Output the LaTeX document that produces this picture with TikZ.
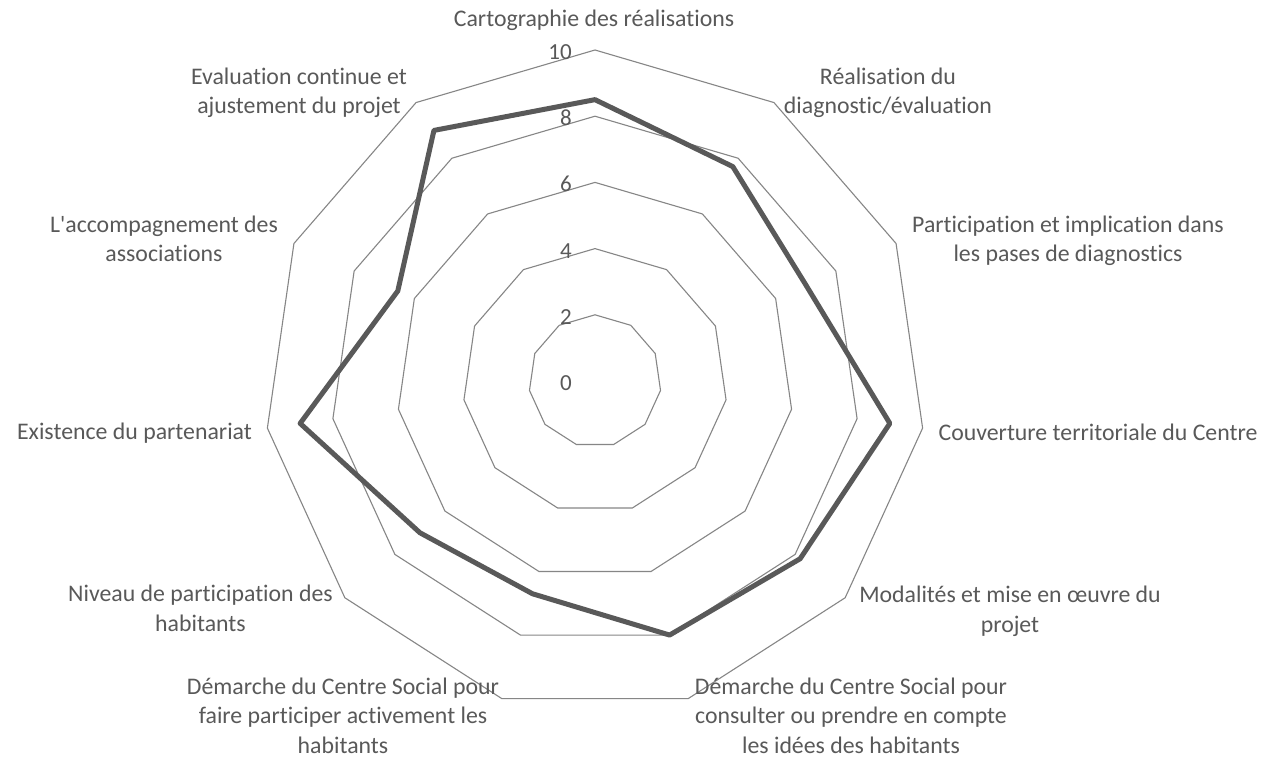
\documentclass[tikz,border=0pt]{standalone}
\usepackage{fontspec}
\setmainfont{Carlito}[Ligatures={TeXOff,NoCommon}]
\definecolor{txt}{HTML}{595959}
\definecolor{gridc}{HTML}{868686}
\definecolor{seriec}{HTML}{595959}
\begin{document}
\begin{tikzpicture}[x=1pt,y=-1pt,
  lbl/.style={text=txt,font=\fontsize{23.8}{29.3}\selectfont,inner sep=0,align=center,anchor=base},
  ticklbl/.style={text=txt,font=\fontsize{23}{27}\selectfont,inner sep=0,anchor=base east},
  ring/.style={draw=gridc,line width=1.1pt,line join=miter},
  serieline/.style={draw=seriec,line width=5pt,line join=round}]
\useasboundingbox[fill=white] (0,0) rectangle (1267,757);
\def\cx{595}\def\cy{381}\def\un{33.1}
% rings
\foreach \v in {2,4,6,8,10}{
  \draw[ring] ({\cx},{\cy-\un*\v})
    \foreach \k in {1,...,10}{ -- ({\cx+\un*\v*cos(90-\k*360/11)},{\cy-\un*\v*sin(90-\k*360/11)}) } -- cycle;
}
% data
\foreach \val [count=\k from 0] in {8.5,7.7,7,9,8.2,8,6.7,7,9,6.55,9}{
  \coordinate (d\k) at ({\cx+\un*\val*cos(90-\k*360/11)},{\cy-\un*\val*sin(90-\k*360/11)});
}
\draw[serieline] (d0) \foreach \k in {1,...,10}{ -- (d\k)} -- cycle;
% tick labels
\foreach \v in {0,2,4,6,8,10}{
  \node[ticklbl] (t\v) at (572,{\cy-\un*\v+9.5}) {\v};
}
% axis labels (base anchor = baseline of the last line)
\node[lbl] (l0) at (594,26.7) {Cartographie des réalisations};
\node[lbl] (l1) at (888,114) {Réalisation du\\diagnostic/évaluation};
\node[lbl] (l2) at (1068,261.5) {Participation et implication dans\\les pases de diagnostics};
\node[lbl] (l3) at (1098,440) {Couverture territoriale du Centre};
\node[lbl] (l4) at (1010,632) {Modalités et mise en œuvre du\\projet};
\node[lbl] (l5) at (851,753) {Démarche du Centre Social pour\\consulter ou prendre en compte\\les idées des habitants};
\node[lbl] (l6) at (343,753) {Démarche du Centre Social pour\\faire participer activement les\\habitants};
\node[lbl] (l7) at (200.5,631) {Niveau de participation des\\habitants};
\node[lbl] (l8) at (134.5,439) {Existence du partenariat};
\node[lbl] (l9) at (164,261.5) {L'accompagnement des\\associations};
\node[lbl] (l10) at (299,114) {Evaluation continue et\\ajustement du projet};
\end{tikzpicture}
\end{document}
